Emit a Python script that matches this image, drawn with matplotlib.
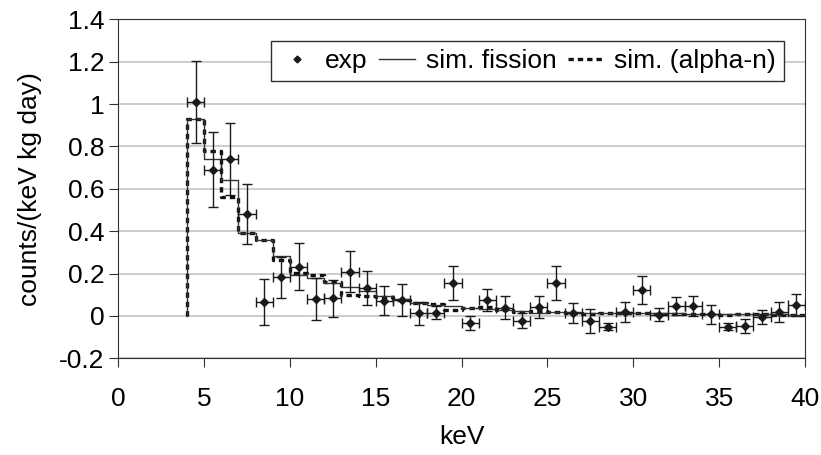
import numpy as np
import matplotlib.pyplot as plt
from matplotlib.lines import Line2D

plt.rcParams['font.family'] = ['Liberation Sans', 'DejaVu Sans']

# experimental points (bin centres, 1 keV bins)
exp_x = [4.5, 5.5, 6.5, 7.5, 8.5, 9.5, 10.5, 11.5, 12.5, 13.5, 14.5, 15.5,
         16.5, 17.5, 18.5, 19.5, 20.5, 21.5, 22.5, 23.5, 24.5, 25.5, 26.5, 27.5,
         28.5, 29.5, 30.5, 31.5, 32.5, 33.5, 34.5, 35.5, 36.5, 37.5, 38.5, 39.5]
exp_y = [1.01, 0.69, 0.742, 0.481, 0.066, 0.183, 0.232, 0.081, 0.083, 0.209, 0.132, 0.072,
         0.077, 0.013, 0.016, 0.157, -0.033, 0.075, 0.039, -0.022, 0.041, 0.157, 0.013, -0.022,
         -0.05, 0.017, 0.122, 0.005, 0.047, 0.047, 0.009, -0.05, -0.047, -0.006, 0.02, 0.052]
exp_err = [0.195, 0.177, 0.17, 0.14, 0.11, 0.097, 0.11, 0.098, 0.088, 0.096, 0.08, 0.069,
           0.075, 0.055, 0.03, 0.08, 0.035, 0.05, 0.053, 0.034, 0.052, 0.08, 0.046, 0.057,
           0.018, 0.047, 0.067, 0.031, 0.043, 0.045, 0.045, 0.016, 0.033, 0.033, 0.047, 0.053]

# simulated spectra, value per bin starting at bin edge
edges = np.arange(4, 41)
sim_fission = [0.93, 0.74, 0.64, 0.39, 0.36, 0.285, 0.195, 0.18, 0.155, 0.135, 0.12, 0.095,
               0.08, 0.06, 0.052, 0.047, 0.036, 0.035, 0.03, 0.025, 0.016, 0.02, 0.018, 0.015,
               0.015, 0.014, 0.014, 0.012, 0.012, 0.01, 0.01, 0.01, 0.008, 0.008, 0.007, 0.005]
sim_alpha = [0.93, 0.78, 0.56, 0.39, 0.36, 0.265, 0.205, 0.195, 0.16, 0.10, 0.095, 0.09,
             0.075, 0.06, 0.057, 0.03, 0.036, 0.04, 0.03, 0.02, 0.025, 0.02, 0.015, 0.01,
             0.012, 0.015, 0.015, 0.008, 0.01, 0.01, 0.008, 0.005, 0.008, 0.01, 0.005, 0.005]

FS = 19

fig = plt.figure(figsize=(8.21, 4.55), dpi=100)
ax = fig.add_axes([0.1441, 0.2125, 0.8364, 0.745])

# step curves: start from zero at the first edge
xs = np.concatenate([[edges[0]], edges])
yf = np.concatenate([[0], sim_fission, [sim_fission[-1]]])
ya = np.concatenate([[0], sim_alpha, [sim_alpha[-1]]])
ax.plot(xs, yf, drawstyle='steps-post', color='#333333', lw=1.0, zorder=3)
ax.plot(xs, ya, drawstyle='steps-post', color='#111111', lw=2.4,
        dashes=(1.6, 1.2), zorder=2)

ax.errorbar(exp_x, exp_y, yerr=exp_err, xerr=0.5, fmt='D', color='#1a1a1a',
            ms=4, elinewidth=1.0, capsize=3.5, capthick=1.0, zorder=4)

ax.set_xlim(0, 40)
ax.set_ylim(-0.2, 1.4)
ax.set_xticks(range(0, 41, 5))
ax.set_yticks(np.arange(-0.2, 1.41, 0.2))
ax.set_yticklabels(['-0.2', '0', '0.2', '0.4', '0.6', '0.8', '1', '1.2', '1.4'])
ax.yaxis.grid(True, color='#c4c4c4', lw=1.2)
ax.set_axisbelow(True)
for s in ['left', 'bottom', 'right', 'top']:
    ax.spines[s].set_color('#303030')
ax.tick_params(axis='both', labelsize=FS, direction='out', length=6.5,
               color='#303030')
ax.tick_params(axis='x', pad=14)
ax.set_xlabel('keV', fontsize=FS, labelpad=10)
ax.set_ylabel('counts/(keV kg day)', fontsize=FS, labelpad=12)

handles = [Line2D([], [], ls='none', marker='D', ms=3.5, color='#1a1a1a'),
           Line2D([], [], color='#333333', lw=1.0),
           Line2D([], [], color='#111111', lw=2.4, dashes=(1.6, 1.2))]
leg = ax.legend(handles, ['exp', 'sim. fission', 'sim. (alpha-n)'], ncol=3,
                loc='upper right', bbox_to_anchor=(0.9694, 0.936), fontsize=FS,
                frameon=True, fancybox=False, handlelength=1.35, columnspacing=0.45,
                handletextpad=0.4, borderpad=0.3, borderaxespad=0)
leg.get_frame().set_edgecolor('#303030')
leg.get_frame().set_linewidth(1.0)
leg.get_frame().set_alpha(1)

fig.savefig('out.png', dpi=100)
